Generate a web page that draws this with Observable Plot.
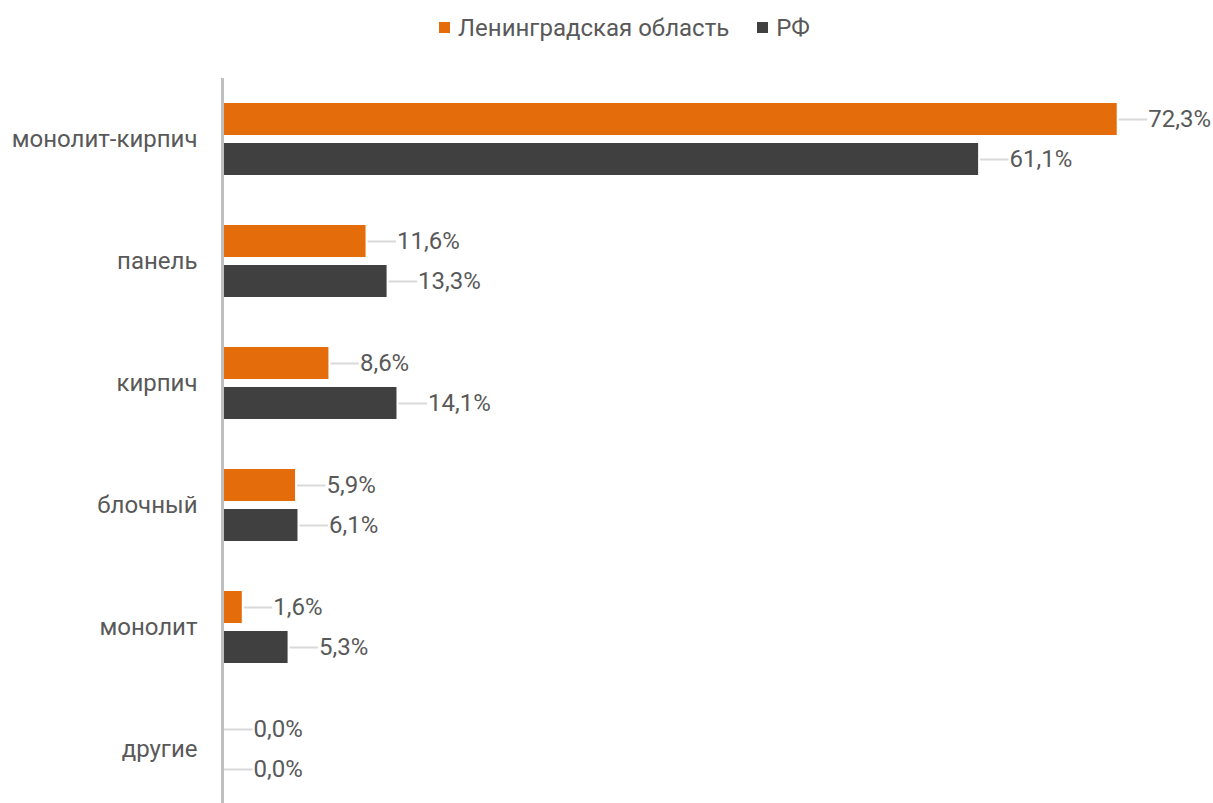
<!DOCTYPE html>
<html><head><meta charset="utf-8">
<script src="https://cdn.jsdelivr.net/npm/d3@7"></script>
<script src="https://cdn.jsdelivr.net/npm/@observablehq/plot@0.6"></script>
<style>
html,body{margin:0;padding:0;background:#fff;overflow:hidden;}
body{width:1213px;height:803px;font-family:Roboto,"Noto Sans",sans-serif;}
#legend{height:55px;display:flex;align-items:center;justify-content:center;padding-left:36px;box-sizing:border-box;font-size:24px;color:#595959;}
#legend .item{display:flex;align-items:center;margin:0 14px;}
#legend .sw{width:11px;height:11px;margin-right:8px;}
#chart svg{display:block;}
</style></head>
<body>
<div id="legend"></div>
<div id="chart"></div>
<script>
const categories = ["монолит-кирпич","панель","кирпич","блочный","монолит","другие"];
const series = ["Ленинградская область","РФ"];
const lenObl = [72.3, 11.6, 8.6, 5.9, 1.6, 0.0];
const rf = [61.1, 13.3, 14.1, 6.1, 5.3, 0.0];
const colors = ["#E46C0A","#404040"];

const data = [];
categories.forEach((c,i)=>{
  data.push({cat:c, s:series[0], v:lenObl[i]});
  data.push({cat:c, s:series[1], v:rf[i]});
});

const leg = document.getElementById("legend");
series.forEach((s,i)=>{
  const it = document.createElement("div"); it.className="item";
  const sw = document.createElement("div"); sw.className="sw"; sw.style.background=colors[i];
  const t = document.createElement("span"); t.textContent=s;
  it.appendChild(sw); it.appendChild(t); leg.appendChild(it);
});

const fmt = v => v.toFixed(1).replace(".", ",") + "%";
const xMax = 80;
const leader = 2.3;

const chart = Plot.plot({
  width: 1213,
  height: 755,
  marginTop: 23,
  marginBottom: 0,
  marginLeft: 222,
  marginRight: 1,
  style: {fontFamily: "Roboto, sans-serif", background: "#fff"},
  x: {domain: [0, xMax], axis: null},
  fy: {domain: categories, padding: 0, label: null},
  y: {domain: series, paddingInner: 0.2, paddingOuter: 0.606, axis: null},
  color: {domain: series, range: colors},
  marks: [
    Plot.barX(data, {fy: "cat", y: "s", x: "v", fill: "s"}),
    Plot.ruleY(data, {fy: "cat", y: "s", x1: d => d.v, x2: d => d.v + leader, dx: 2, stroke: "#d9d9d9", strokeWidth: 2}),
    Plot.text(data, {fy: "cat", y: "s", x: "v", text: d => fmt(d.v), dx: 31, textAnchor: "start", fontSize: 24, fill: "#595959"}),
    Plot.ruleX([0], {stroke: "#bfbfbf", strokeWidth: 3}),
    Plot.axisFy({anchor: "left", tickSize: 0, tickPadding: 25, fontSize: 24, color: "#595959", label: null})
  ]
});
document.getElementById("chart").appendChild(chart);
</script>
</body></html>
